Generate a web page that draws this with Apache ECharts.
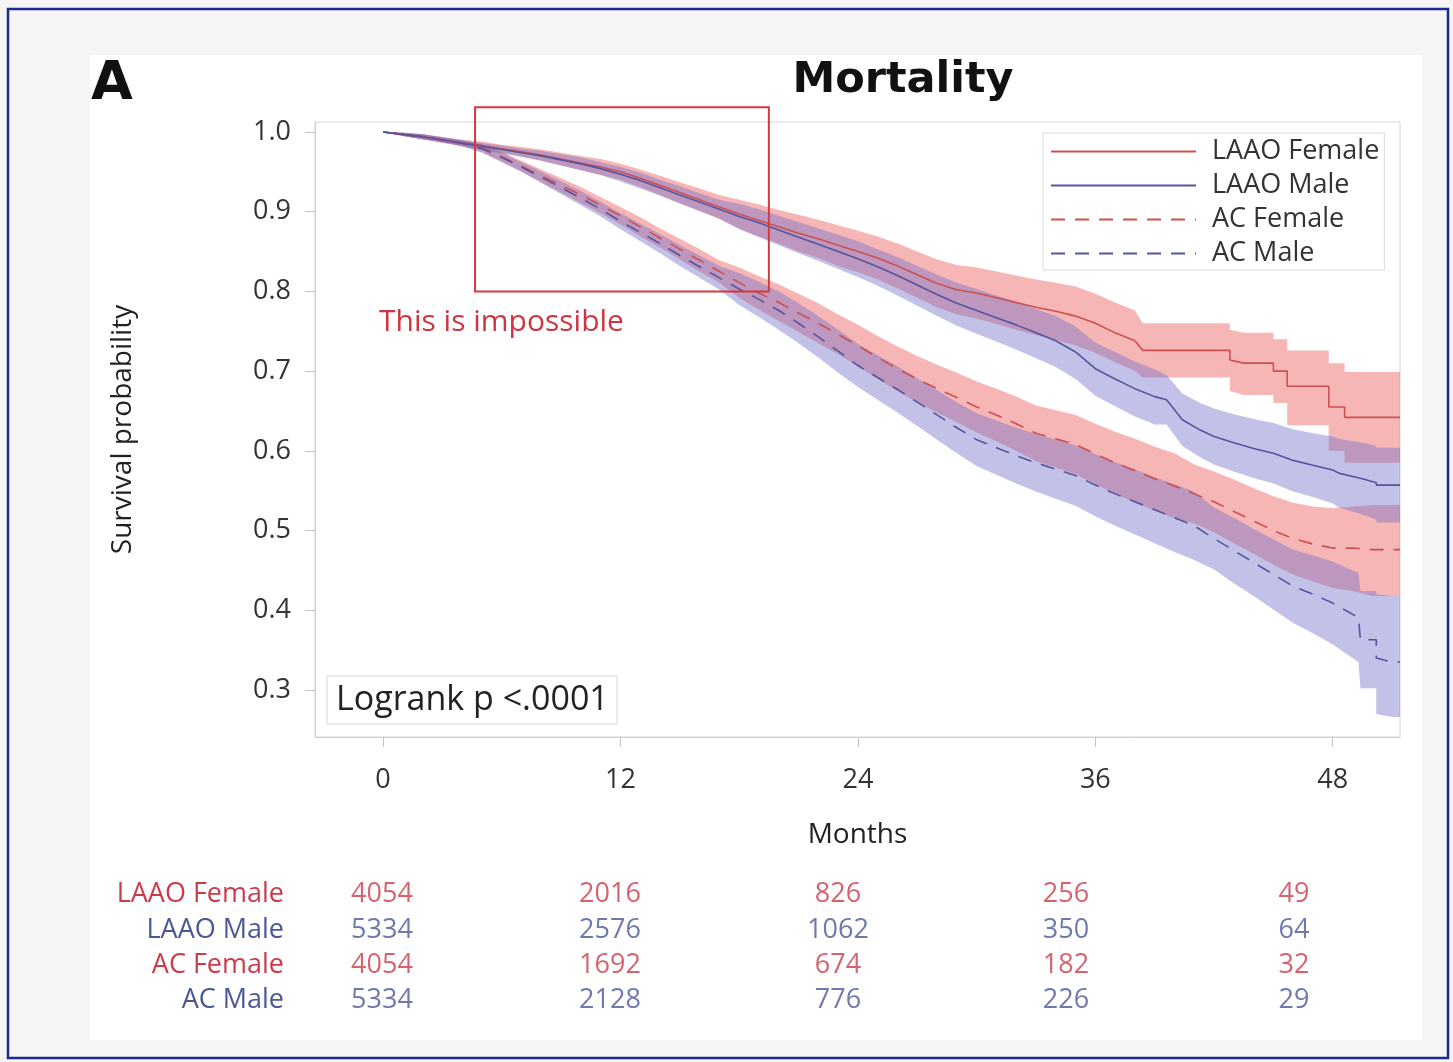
<!DOCTYPE html>
<html><head><meta charset="utf-8">
<script src="https://cdn.jsdelivr.net/npm/echarts@6/dist/echarts.min.js"></script>
<style>html,body{margin:0;padding:0;background:#fff}#c{width:1453px;height:1062px}</style>
</head><body><div id="c"></div>
<script>
// ---- Kaplan-Meier curves (months, survival, 95% CI) ----
const lfTime  = [0,1,2,3,4,5,6,7,8,9,10,11,12,13,14,15,16,17,18,19,20,21,22,23,24,25,26,27,28,29,30,31,32,33,34,35,36,37,38,38.4,42.8,42.8,43.5,45,45,45.7,45.7,47.8,47.8,48.6,48.6,51.4];
const lfSurv  = [1.000,.997,.994,.990,.986,.983,.979,.975,.971,.966,.961,.956,.950,.942,.933,.924,.915,.906,.897,.889,.881,.873,.866,.858,.850,.842,.832,.821,.810,.802,.798,.792,.786,.780,.775,.769,.760,.748,.738,.726,.726,.714,.710,.710,.700,.700,.681,.681,.655,.655,.642,.642];
const lfLower = [1.000,.995,.991,.987,.982,.978,.974,.969,.964,.958,.952,.946,.940,.931,.921,.911,.901,.891,.879,.869,.860,.850,.842,.832,.824,.815,.804,.792,.780,.771,.766,.759,.752,.745,.739,.732,.723,.711,.700,.692,.692,.675,.670,.670,.660,.660,.632,.632,.600,.600,.585,.585];
const lfUpper = [1.000,.999,.997,.993,.990,.988,.984,.981,.978,.974,.970,.966,.960,.953,.945,.937,.929,.921,.915,.909,.902,.896,.890,.883,.876,.869,.860,.850,.840,.833,.830,.825,.820,.815,.811,.806,.797,.786,.776,.760,.760,.752,.748,.748,.740,.740,.726,.726,.710,.710,.699,.699];

const lmTime  = [0,1,2,3,4,5,6,7,8,9,10,11,12,13,14,15,16,17,18,19,20,21,22,23,24,25,26,27,28,29,30,31,32,33,34,35,36,37,38,39,39.6,40.4,41.3,42,43,44,45,46,47,48,48.3,49.5,50.2,50.2,51.4];
const lmSurv  = [1.000,.997,.994,.990,.986,.982,.978,.974,.970,.965,.960,.954,.947,.939,.930,.921,.912,.903,.894,.886,.877,.868,.859,.850,.841,.831,.820,.808,.796,.785,.776,.767,.758,.748,.738,.724,.703,.690,.678,.668,.664,.639,.626,.618,.610,.603,.597,.588,.582,.576,.572,.565,.560,.557,.557];
const lmLower = [1.000,.995,.991,.987,.983,.978,.973,.969,.964,.958,.952,.946,.938,.929,.920,.910,.901,.891,.878,.868,.858,.848,.838,.828,.818,.807,.795,.782,.769,.757,.747,.737,.727,.716,.705,.690,.669,.656,.643,.633,.633,.606,.592,.583,.574,.566,.559,.549,.542,.534,.529,.520,.514,.510,.510];
const lmUpper = [1.000,.999,.997,.993,.989,.986,.983,.979,.976,.972,.968,.962,.956,.949,.940,.932,.923,.915,.910,.903,.895,.887,.879,.871,.863,.853,.843,.832,.821,.811,.803,.795,.787,.778,.769,.756,.736,.724,.712,.702,.695,.672,.660,.653,.646,.640,.635,.627,.622,.618,.615,.610,.606,.604,.604];

const afTime  = [0,1,2,3,4,5,6,7,8,9,10,11,12,13,14,15,16,17,18,19,20,21,22,23,24,25,26,27,28,29,30,31,32,33,34,35,36,37,38,39,40,41,42,43,44,45,46,47,48,49,50,51.4];
const afSurv  = [1.000,.997,.994,.990,.986,.980,.969,.957,.945,.933,.921,.908,.895,.881,.867,.853,.839,.825,.811,.798,.786,.773,.760,.746,.732,.717,.703,.690,.678,.667,.655,.645,.634,.622,.615,.608,.596,.585,.575,.565,.556,.546,.536,.524,.512,.500,.490,.483,.478,.478,.476,.476];
const afLower = [1.000,.995,.991,.986,.982,.975,.963,.950,.937,.924,.911,.898,.884,.869,.855,.840,.825,.811,.792,.777,.763,.749,.735,.721,.706,.690,.675,.661,.648,.636,.623,.612,.600,.587,.579,.571,.558,.546,.535,.525,.515,.509,.498,.484,.471,.457,.445,.436,.428,.424,.418,.418];
const afUpper = [1.000,.999,.997,.994,.990,.985,.975,.964,.953,.942,.931,.918,.906,.893,.879,.866,.853,.839,.830,.819,.809,.797,.785,.771,.758,.744,.731,.719,.708,.698,.687,.678,.668,.657,.651,.645,.634,.624,.615,.605,.597,.583,.574,.564,.553,.543,.535,.530,.528,.530,.532,.532];

const amTime  = [0,1,2,3,4,5,6,7,8,9,10,11,12,13,14,15,16,17,18,19,20,21,22,23,24,25,26,27,28,29,30,31,32,33,34,35,36,37,38,39,40,41,42,43,44,45,46,47,48,49,49.3,49.4,50.2,50.2,51,51.4];
const amSurv  = [1.000,.997,.994,.990,.986,.979,.968,.956,.943,.930,.917,.903,.888,.874,.860,.845,.831,.817,.803,.790,.776,.760,.743,.725,.707,.692,.677,.661,.645,.629,.614,.604,.594,.585,.577,.569,.557,.546,.536,.526,.516,.506,.490,.475,.460,.445,.430,.420,.409,.395,.391,.363,.363,.340,.335,.335];
const amLower = [1.000,.995,.991,.987,.982,.974,.962,.950,.936,.922,.908,.894,.878,.863,.848,.832,.817,.802,.783,.768,.752,.735,.717,.698,.680,.664,.648,.631,.614,.597,.581,.570,.559,.549,.540,.531,.518,.506,.495,.484,.473,.463,.451,.434,.418,.401,.384,.371,.357,.340,.335,.302,.302,.270,.266,.266];
const amUpper = [1.000,.999,.997,.993,.990,.984,.974,.962,.950,.938,.926,.912,.898,.885,.872,.858,.845,.832,.823,.812,.800,.785,.769,.752,.734,.720,.706,.691,.676,.661,.647,.638,.629,.621,.614,.607,.596,.586,.577,.567,.558,.549,.529,.516,.502,.489,.476,.469,.461,.450,.447,.424,.424,.420,.418,.418];

// ---- axes / table ----
const xTicks = [0, 12, 24, 36, 48];
const yTicks = [0.3, 0.4, 0.5, 0.6, 0.7, 0.8, 0.9, 1.0];
const groupNames = ['LAAO Female', 'LAAO Male', 'AC Female', 'AC Male'];
const riskMonths = [0, 12, 24, 36, 48];
const riskLF = [4054, 2016, 826, 256, 49];
const riskLM = [5334, 2576, 1062, 350, 64];
const riskAF = [4054, 1692, 674, 182, 32];
const riskAM = [5334, 2128, 776, 226, 29];
const boxMonths = [4.65, 19.5];   // annotation box (months)
const boxSurv = [0.80, 1.031];    // annotation box (survival)

const RED = '#cc5050', BLUE = '#55559f';
const TRED = '#cc3b4a', TBLUE = '#4b5796';
const PINK_BAND = 'rgba(240,110,110,0.5)', BLUE_BAND = 'rgba(110,110,200,0.42)';
const FONT = 'Open Sans';

const chart = echarts.init(document.getElementById('c'), null, {renderer: 'canvas'});

function band(time, lower, upper, fill) {
  return {
    type: 'custom', silent: true, z: 2, animation: false,
    xAxisIndex: 0, yAxisIndex: 0,
    data: time.map((t, i) => [t, lower[i], upper[i]]),
    encode: {x: 0, y: [1, 2]},
    renderItem: function (params, api) {
      if (params.dataIndex !== 0) return {type: 'group', children: []};
      const pts = [];
      for (let i = 0; i < time.length; i++) pts.push(api.coord([time[i], upper[i]]));
      for (let i = time.length - 1; i >= 0; i--) pts.push(api.coord([time[i], lower[i]]));
      return {type: 'polygon', shape: {points: pts}, style: {fill: fill}};
    }
  };
}
function curve(name, time, surv, color, dashed) {
  return {
    type: 'line', name: name, xAxisIndex: 0, yAxisIndex: 0, z: 4,
    data: time.map((t, i) => [t, surv[i]]),
    showSymbol: false, symbol: 'none', animation: false, silent: true,
    lineStyle: {color: color, width: 1.6, type: dashed ? [14, 10] : 'solid'},
    itemStyle: {color: color}
  };
}
function risk(row, values, color) {
  return {
    type: 'scatter', xAxisIndex: 1, yAxisIndex: 1, silent: true, animation: false,
    symbolSize: 1, itemStyle: {color: 'rgba(0,0,0,0)'},
    data: riskMonths.map((m, i) => [m, row, values[i]]),
    encode: {x: 0, y: 1},
    label: {show: true, position: 'inside', formatter: p => String(p.value[2]),
            color: color, fontSize: 27, fontFamily: FONT}
  };
}

const rowColors = [TRED, TBLUE, TRED, TBLUE];

chart.setOption({
  animation: false,
  title: [
    {text: 'Mortality', left: 898, top: 54, textAlign: 'center',
     textStyle: {fontFamily: 'DejaVu Sans', fontWeight: 'bold', fontSize: 43, color: '#111'}},
    {text: 'A', left: 86, top: 53,
     textStyle: {fontFamily: 'DejaVu Sans', fontWeight: 'bold', fontSize: 54, color: '#111'}}
  ],
  legend: {
    data: groupNames, orient: 'vertical', left: 1043, top: 133,
    itemWidth: 145, itemHeight: 24, itemGap: 7, padding: [5, 5, 3, 7],
    borderColor: '#d9d9d9', borderWidth: 1, backgroundColor: '#fff',
    selectedMode: false,
    itemStyle: {opacity: 0},
    textStyle: {fontSize: 27, fontFamily: FONT, color: '#333', padding: [0, 0, 0, 11]}
  },
  grid: [
    {left: 315, right: 53, top: 122, bottom: 325, show: true, borderColor: '#d6d6d6', borderWidth: 1, backgroundColor: '#fff'},
    {left: 382, right: 159, top: 877, height: 141, show: false}
  ],
  xAxis: [
    {type: 'value', gridIndex: 0, min: -3.44, max: 51.4,
     name: 'Months', nameLocation: 'middle', nameGap: 84,
     nameTextStyle: {fontSize: 28, fontFamily: FONT, color: '#222'},
     axisLine: {show: true, onZero: false, lineStyle: {color: '#d0d0d0'}},
     axisTick: {show: true, customValues: xTicks, length: 10, lineStyle: {color: '#c4c4c4'}},
     axisLabel: {customValues: xTicks, margin: 30, fontSize: 27, fontFamily: FONT, color: '#333'},
     splitLine: {show: false}},
    {type: 'value', gridIndex: 1, min: 0, max: 48, show: false}
  ],
  yAxis: [
    {type: 'value', gridIndex: 0, min: 0.241, max: 1.0125,
     name: 'Survival probability', nameLocation: 'middle', nameGap: 178,
     nameTextStyle: {fontSize: 28, fontFamily: FONT, color: '#222'},
     axisLine: {show: true, onZero: false, lineStyle: {color: '#d0d0d0'}},
     axisTick: {show: true, customValues: yTicks, length: 10, lineStyle: {color: '#c4c4c4'}},
     axisLabel: {customValues: yTicks, margin: 24, fontSize: 27, fontFamily: FONT, color: '#333',
                 formatter: v => Number(v).toFixed(1)},
     splitLine: {show: false}},
    {type: 'category', gridIndex: 1, data: groupNames, inverse: true,
     axisLine: {show: false}, axisTick: {show: false}, splitLine: {show: false},
     axisLabel: {margin: 98, fontSize: 27, fontFamily: FONT,
                 color: (v, i) => rowColors[groupNames.indexOf(v)]}}
  ],
  series: [
    band(lfTime, lfLower, lfUpper, PINK_BAND),
    band(afTime, afLower, afUpper, PINK_BAND),
    band(lmTime, lmLower, lmUpper, BLUE_BAND),
    band(amTime, amLower, amUpper, BLUE_BAND),
    curve('LAAO Female', lfTime, lfSurv, RED, false),
    curve('LAAO Male', lmTime, lmSurv, BLUE, false),
    curve('AC Female', afTime, afSurv, RED, true),
    curve('AC Male', amTime, amSurv, BLUE, true),
    risk('LAAO Female', riskLF, TRED),
    risk('LAAO Male', riskLM, TBLUE),
    risk('AC Female', riskAF, TRED),
    risk('AC Male', riskAM, TBLUE)
  ]
});

const p1 = chart.convertToPixel({gridIndex: 0}, [boxMonths[0], boxSurv[1]]);
const p2 = chart.convertToPixel({gridIndex: 0}, [boxMonths[1], boxSurv[0]]);
const gl = chart.convertToPixel({gridIndex: 0}, [-3.44, 0.241]);

chart.setOption({
  graphic: [
    {type: 'rect', z: -20, silent: true, shape: {x: 0, y: 0, width: 1453, height: 1062}, style: {fill: '#f5f5f5'}},
    {type: 'rect', z: -19, silent: true, shape: {x: 90, y: 55, width: 1332, height: 985}, style: {fill: '#ffffff'}},
    {type: 'rect', z: 200, silent: true, shape: {x: 8, y: 9, width: 1440, height: 1049},
     style: {fill: 'none', stroke: '#1c2a8c', lineWidth: 2.5}},
    {type: 'rect', z: 150, silent: true,
     shape: {x: p1[0], y: p1[1], width: p2[0] - p1[0], height: p2[1] - p1[1]},
     style: {fill: 'none', stroke: '#d23a3e', lineWidth: 2}},
    {type: 'text', z: 150, silent: true, x: 379, y: 322,
     style: {text: 'This is impossible', fill: '#cf3540', font: '30px "Open Sans"', verticalAlign: 'middle', align: 'left'}},
    {type: 'rect', z: 150, silent: true,
     shape: {x: gl[0] + 12, y: gl[1] - 61, width: 290, height: 48},
     style: {fill: '#fff', stroke: '#d4d4d4', lineWidth: 1}},
    {type: 'text', z: 151, silent: true, x: gl[0] + 21, y: gl[1] - 37,
     style: {text: 'Logrank p <.0001', fill: '#222', font: '34px "Open Sans"', verticalAlign: 'middle', align: 'left'}}
  ]
});
</script>
</body></html>
